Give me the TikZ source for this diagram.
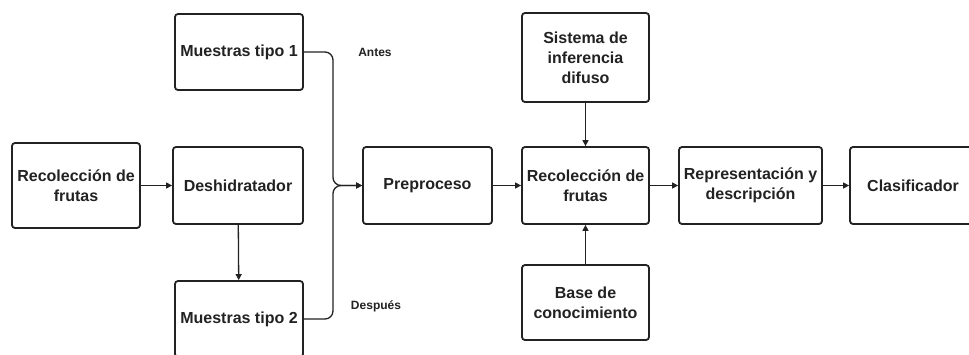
\documentclass[tikz,border=0pt]{standalone}
\usepackage{fontspec}
\setmainfont{Liberation Sans}
\usetikzlibrary{arrows.meta}
\definecolor{ink}{HTML}{222222}
\tikzset{
  blk/.style={draw=ink, line width=1.8pt, rounded corners=3pt, align=center,
    inner sep=0pt, text=ink, font=\fontsize{16}{20}\selectfont\bfseries},
  conn/.style={draw=ink, line width=1.3pt},
  arr/.style={conn, -{Triangle[length=6pt,width=6pt]}},
  lbl/.style={text=ink, font=\fontsize{12}{14}\selectfont\bfseries, inner sep=0pt}
}
\begin{document}
\begin{tikzpicture}[x=1pt,y=-1pt]
\useasboundingbox (0,0) rectangle (969,354);
\clip (0,0) rectangle (969,354);
\fill[white] (0,0) rectangle (969,354);
\node[blk, minimum width=128pt, minimum height=85pt] (r1) at (76,185.5) {Recolección de\\frutas};
\node[blk, minimum width=130pt, minimum height=77pt] (des) at (238,185.5) {Deshidratador};
\node[blk, minimum width=128pt, minimum height=76pt] (m1) at (239,52) {Muestras tipo 1};
\node[blk, minimum width=128pt, minimum height=76pt] (m2) at (239,319) {Muestras tipo 2};
\node[blk, minimum width=129pt, minimum height=77pt] (pre) at (427.5,185.5) {Preproceso};
\node[blk, minimum width=127pt, minimum height=77pt] (r2) at (585.5,185.5) {Recolección de\\frutas};
\node[blk, minimum width=127pt, minimum height=89pt] (sis) at (585.5,57.5) {Sistema de\\inferencia\\difuso};
\node[blk, minimum width=127pt, minimum height=75pt] (base) at (585.5,302.5) {Base de\\conocimiento};
\node[blk, minimum width=143pt, minimum height=77pt] (rep) at (750.5,185.5) {Representación y\\descripción};
\node[blk, minimum width=126pt, minimum height=77pt] (cla) at (913,185.5) {Clasificador};
\node[lbl] (antes) at (375,52) {Antes};
\node[lbl] (desp) at (376,306) {Después};
\coordinate (j1) at (333,52);
\coordinate (j2) at (333,319);
\coordinate (jm) at (333,185.5);
\draw[arr] (r1) -- (des);
\draw[arr] (des) -- (m2);
\draw[arr, rounded corners=8pt] (m1.east) -- (j1) -- (jm) -- (pre.west);
\draw[arr, rounded corners=8pt] (m2.east) -- (j2) -- (jm) -- (pre.west);
\draw[arr] (pre) -- (r2);
\draw[arr] (sis) -- (r2);
\draw[arr] (base) -- (r2);
\draw[arr] (r2) -- (rep);
\draw[arr] (rep) -- (cla);
\end{tikzpicture}
\end{document}
